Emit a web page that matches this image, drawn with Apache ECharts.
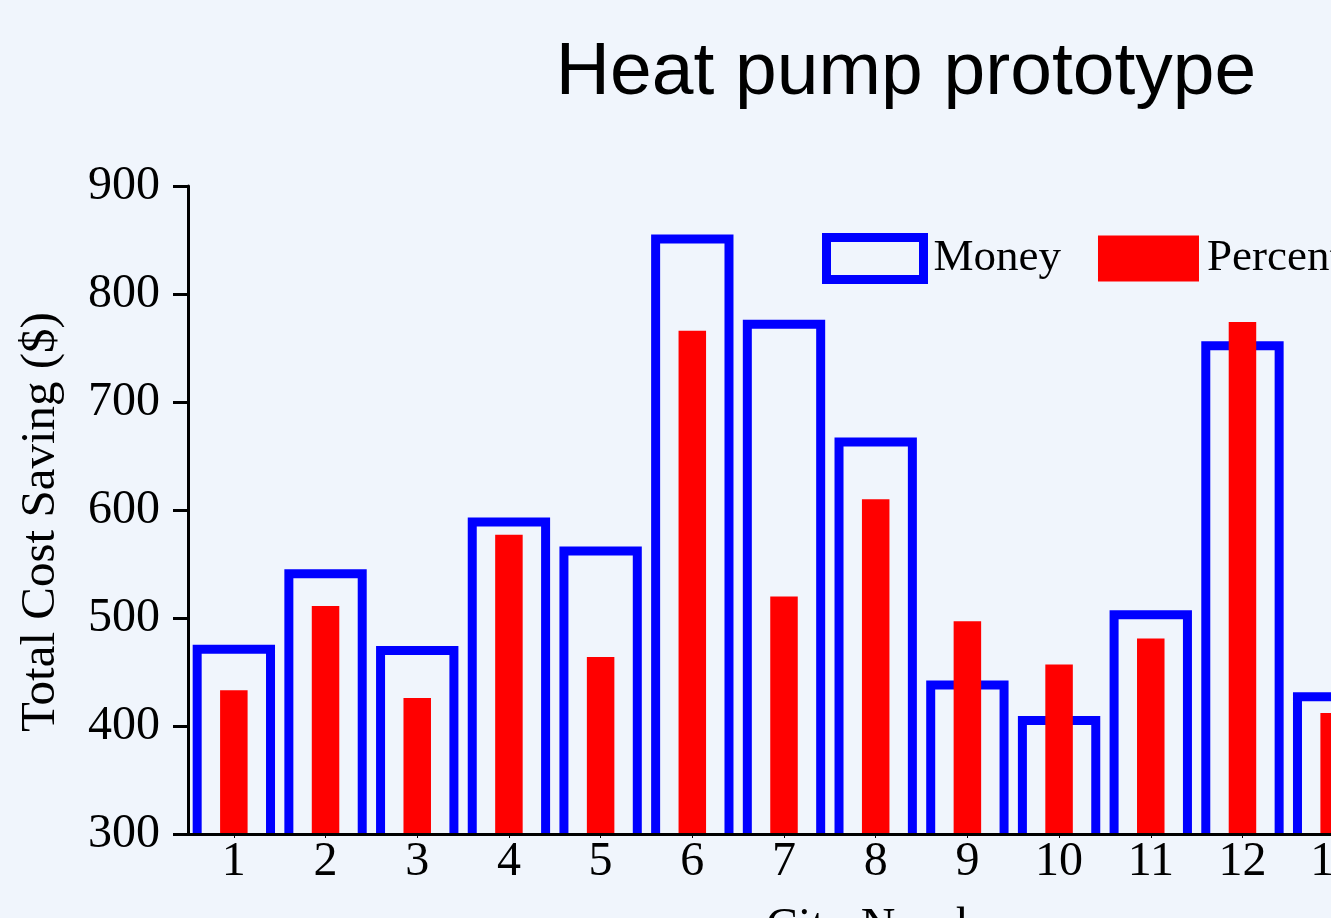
<!DOCTYPE html>
<html>
<head>
<meta charset="utf-8">
<title>Heat pump prototype</title>
<script src="https://cdn.jsdelivr.net/npm/echarts@6/dist/echarts.min.js"></script>
<style>
  html, body { margin: 0; padding: 0; overflow: hidden; background: #f0f5fc; }
  #chart { width: 1812px; height: 1000px; }
</style>
</head>
<body>
<div id="chart"></div>
<script>
  // city numbers visible in the picture
  const cities = ['1', '2', '3', '4', '5', '6', '7', '8', '9', '10', '11', '12', '13']
  // total cost saving ($)
  const money = [471, 541, 470, 589, 562, 851, 772, 663, 438, 405, 503, 752, 427]
  const percent = [433, 511, 426, 577, 464, 766, 520, 610, 497, 457, 481, 774, 412]
  const yTicks = { min: 300, max: 900, step: 100 }

  const serif = 'Liberation Serif, Times New Roman, serif'
  const blue = '#0000ff'
  const red = '#ff0000'

  const catAxis = (show) => ({
    type: 'category',
    data: cities,
    show: show,
    z: 10,
    axisLine: { show: show, lineStyle: { color: '#000', width: 3 } },
    axisTick: { show: show, alignWithLabel: true, length: 4, lineStyle: { color: '#000', width: 1 } },
    axisLabel: { show: show, color: '#000', fontFamily: serif, fontSize: 48, margin: 4 },
  })

  const xMain = catAxis(true)
  xMain.name = 'City Number'
  xMain.nameLocation = 'middle'
  xMain.nameGap = 70
  xMain.nameTextStyle = { color: '#000', fontFamily: serif, fontSize: 48, padding: [0, 0, 0, 216] }

  // open-bottom outline bar (the bottom edge sits under the axis)
  const outlineBar = (params, api) => {
    const top = api.coord([api.value(0), api.value(1)])
    const base = api.coord([api.value(0), yTicks.min])
    const w = api.size([1, 0])[0] * 0.8
    const x0 = top[0] - w / 2
    const x1 = top[0] + w / 2
    return {
      type: 'polyline',
      shape: { points: [[x0, base[1]], [x0, top[1]], [x1, top[1]], [x1, base[1]]] },
      style: { stroke: blue, lineWidth: 9, fill: null, lineJoin: 'miter', lineCap: 'butt' }
    }
  }

  const option = {
    backgroundColor: '#f0f5fc',
    animation: false,
    title: {
      text: 'Heat pump prototype',
      left: 'center',
      top: 36,
      padding: 0,
      textStyle: { color: '#000', fontFamily: 'Liberation Sans, Arial, sans-serif', fontWeight: 'normal', fontSize: 75 }
    },
    legend: {
      left: 817,
      top: 228,
      icon: 'rect',
      itemWidth: 97,
      itemHeight: 42,
      itemGap: 37,
      textStyle: { color: '#000', fontFamily: serif, fontSize: 45, padding: [0, 0, 0, 5] },
      data: [
        { name: 'Money', itemStyle: { color: 'transparent', borderColor: blue, borderWidth: 9 } },
        { name: 'Percent', itemStyle: { color: red, borderColor: red, borderWidth: 4 } }
      ]
    },
    grid: { left: 188, right: 432, top: 186, bottom: 166 },
    xAxis: [xMain, catAxis(false)],
    yAxis: {
      type: 'value',
      min: yTicks.min,
      max: yTicks.max,
      interval: yTicks.step,
      name: 'Total Cost Saving ($)',
      nameLocation: 'middle',
      nameGap: 122,
      nameTextStyle: { color: '#000', fontFamily: serif, fontSize: 49, padding: [0, 24, 0, 0] },
      z: 10,
      axisLine: { show: true, lineStyle: { color: '#000', width: 3 } },
      axisTick: { show: true, length: 15, lineStyle: { color: '#000', width: 3 } },
      axisLabel: { color: '#000', fontFamily: serif, fontSize: 48, margin: 28 },
      splitLine: { show: false }
    },
    series: [
      {
        name: 'Money',
        type: 'custom',
        xAxisIndex: 0,
        renderItem: outlineBar,
        encode: { x: 0, y: 1 },
        data: money.map((v, i) => [i, v]),
        itemStyle: { color: 'transparent', borderColor: blue, borderWidth: 9 }
      },
      {
        name: 'Percent',
        type: 'bar',
        xAxisIndex: 1,
        barWidth: '30%',
        data: percent,
        itemStyle: { color: red }
      }
    ]
  }

  let myChart = echarts.init(document.getElementById('chart'))
  myChart.setOption(option)
</script>
</body>
</html>
